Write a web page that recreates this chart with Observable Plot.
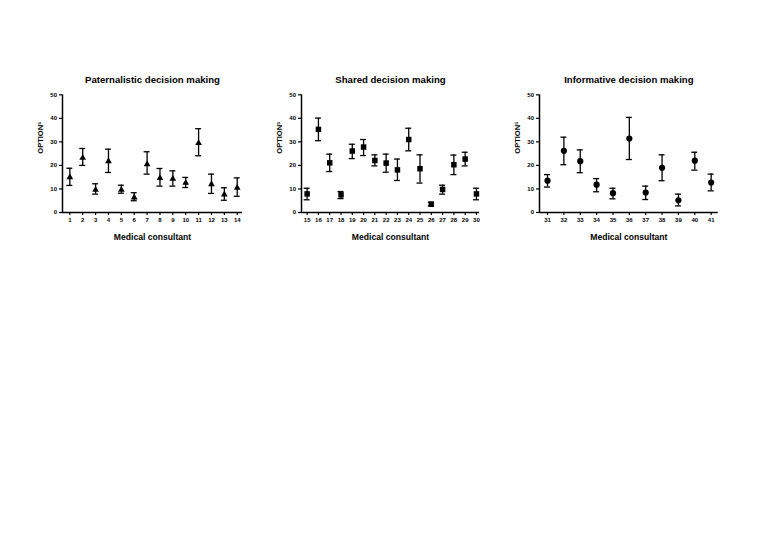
<!DOCTYPE html>
<html>
<head>
<meta charset="utf-8">
<script src="https://cdn.jsdelivr.net/npm/d3@7"></script>
<script src="https://cdn.jsdelivr.net/npm/@observablehq/plot@0.6"></script>
<style>
  html, body { margin: 0; padding: 0; background: #fff; }
  #wrap { position: relative; width: 779px; height: 551px; background: #fff; overflow: hidden; }
  #wrap svg { position: absolute; }
</style>
</head>
<body>
<div id="wrap"></div>
<script>
// ---- Data ----
const titles = ["Paternalistic decision making", "Shared decision making", "Informative decision making"];
const xLabel = "Medical consultant";
const yLabel = "OPTION\u2075";
const yTicks = [0, 10, 20, 30, 40, 50];

const pIds   = [1,2,3,4,5,6,7,8,9,10,11,12,13,14];
const pMean  = [15.0,23.2,9.6,21.8,9.6,6.4,20.5,14.6,14.3,12.6,29.5,12.0,7.6,10.5];
const pLow   = [11.5,20.0,7.8,17.0,8.2,5.0,16.3,11.2,11.2,10.6,24.1,8.1,5.2,6.9];
const pHigh  = [18.8,27.2,12.2,26.9,11.6,8.4,25.8,18.7,17.7,14.9,35.6,16.3,10.5,14.7];

const sIds   = [15,16,17,18,19,20,21,22,23,24,25,26,27,28,29,30];
const sMean  = [7.9,35.3,21.1,7.5,26.1,27.8,22.1,21.0,18.1,31.0,18.6,3.5,9.8,20.3,22.7,7.9];
const sLow   = [5.4,30.5,17.4,5.9,22.9,24.2,19.8,17.1,13.6,26.2,12.5,2.8,7.8,16.1,19.8,5.4];
const sHigh  = [10.3,40.1,24.8,8.9,29.0,31.0,24.5,24.8,22.7,35.8,24.5,4.4,11.6,24.4,25.6,10.3];

const iIds   = [31,32,33,34,35,36,37,38,39,40,41];
const iMean  = [13.5,26.2,21.8,11.8,8.2,31.4,8.5,19.0,5.2,22.0,12.7];
const iLow   = [10.8,20.3,16.9,8.8,5.8,22.5,5.5,13.5,2.8,18.0,9.2];
const iHigh  = [16.1,32.0,26.6,14.4,10.3,40.4,11.2,24.5,7.8,25.6,16.3];

// ---- Panels ----
const panels = [
  {title: titles[0], ids: pIds, mean: pMean, low: pLow, high: pHigh, symbol: "triangle", r: 2.5,
   frameLeft: 62, frameRight: 242, domain: [0.43, 14.41]},
  {title: titles[1], ids: sIds, mean: sMean, low: sLow, high: sHigh, symbol: "square", r: 3.1,
   frameLeft: 301, frameRight: 479, domain: [14.5, 30.27]},
  {title: titles[2], ids: iIds, mean: iMean, low: iLow, high: iHigh, symbol: "circle", r: 3.1,
   frameLeft: 539.3, frameRight: 718, domain: [30.51, 41.43]}
];

const frameTop = 94.3, frameBottom = 212;
const mL = 40, mR = 20, mT = 34.3, mB = 40;
const svgTop = frameTop - mT;
const wrap = document.getElementById("wrap");

for (const p of panels) {
  const data = p.ids.map((id, i) => ({id, mean: p.mean[i], low: p.low[i], high: p.high[i]}));
  const width = (p.frameRight - p.frameLeft) + mL + mR;
  const height = (frameBottom - frameTop) + mT + mB;
  const chart = Plot.plot({
    width, height,
    marginLeft: mL, marginRight: mR, marginTop: mT, marginBottom: mB,
    style: {fontFamily: "'Liberation Sans', Arial, sans-serif", fontSize: "6px", fontWeight: "bold", background: "transparent", color: "#000"},
    x: {type: "linear", domain: p.domain},
    y: {domain: [0, 50]},
    marks: [
      Plot.axisX({ticks: p.ids, tickFormat: d => String(d), tickSize: 3, tickPadding: 2.5, label: null, fontSize: 6, fontWeight: "bold", strokeWidth: 1.2, fill: "#000"}),
      Plot.axisY({ticks: yTicks, tickSize: 3, tickPadding: 2.5, label: null, fontSize: 6, fontWeight: "bold", strokeWidth: 1.2, fill: "#000"}),
      Plot.ruleY([0], {stroke: "#000", strokeWidth: 1.5}),
      Plot.ruleX([p.domain[0]], {stroke: "#000", strokeWidth: 1.5}),
      Plot.ruleX(data, {x: "id", y1: "low", y2: "high", stroke: "#000", strokeWidth: 1.3}),
      Plot.ruleY(data, {x1: "id", x2: "id", y: "low", insetLeft: -3, insetRight: -3, stroke: "#000", strokeWidth: 1.3}),
      Plot.ruleY(data, {x1: "id", x2: "id", y: "high", insetLeft: -3, insetRight: -3, stroke: "#000", strokeWidth: 1.3}),
      Plot.dot(data, {x: "id", y: "mean", symbol: () => p.symbol, r: p.r, fill: "#000", stroke: "none"}),
      Plot.text([p.title], {frameAnchor: "top", dy: -19, fontSize: 9.6, fontWeight: "bold", fill: "#000"}),
      Plot.text([xLabel], {frameAnchor: "bottom", dy: 27.5, fontSize: 8.6, fontWeight: "bold", fill: "#000"}),
      Plot.text([yLabel], {frameAnchor: "left", dx: -22, rotate: -90, fontSize: 7.5, fontWeight: "bold", fill: "#000"})
    ]
  });
  chart.style.left = (p.frameLeft - mL) + "px";
  chart.style.top = svgTop + "px";
  wrap.appendChild(chart);
}
</script>
</body>
</html>
